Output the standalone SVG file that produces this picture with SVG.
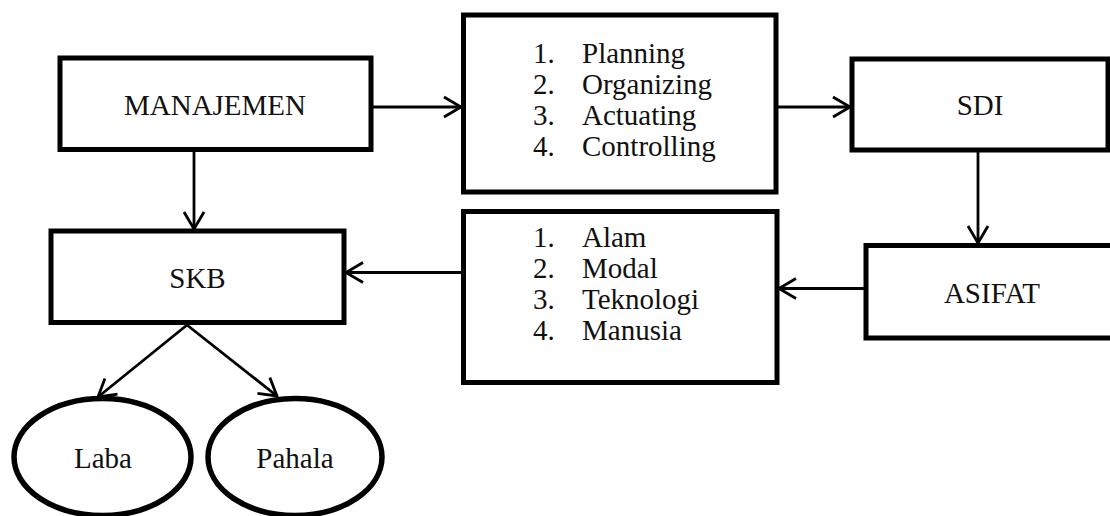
<svg xmlns="http://www.w3.org/2000/svg" width="1110" height="516" viewBox="0 0 1110 516">
  <style>
    .box { fill: #ffffff; stroke: #000000; stroke-width: 5; }
    .oval { fill: #ffffff; stroke: #000000; stroke-width: 5.5; }
    .mid { text-anchor: middle; }
    .link { fill: none; stroke: #000000; stroke-width: 2.8; }
  </style>
  <defs>
    <marker id="head" markerUnits="userSpaceOnUse" markerWidth="24" markerHeight="26" refX="20" refY="12" orient="auto">
      <path d="M3,2 L20,12 L3,22" fill="none" stroke="#000000" stroke-width="2.8"/>
    </marker>
  </defs>

  <rect width="1110" height="516" fill="#ffffff"/>

  <!-- connectors -->
  <g id="connectors">
    <line class="link" x1="373" y1="107" x2="461" y2="107" marker-end="url(#head)"/>
    <line class="link" x1="778" y1="107" x2="850" y2="107" marker-end="url(#head)"/>
    <line class="link" x1="978" y1="152" x2="978" y2="243" marker-end="url(#head)"/>
    <line class="link" x1="864" y1="288.5" x2="779" y2="288.5" marker-end="url(#head)"/>
    <line class="link" x1="462" y1="272.5" x2="346" y2="272.5" marker-end="url(#head)"/>
    <line class="link" x1="194" y1="151" x2="194" y2="229" marker-end="url(#head)"/>
    <line class="link" x1="187" y1="325" x2="98" y2="397" marker-end="url(#head)"/>
    <line class="link" x1="187" y1="325" x2="277" y2="396" marker-end="url(#head)"/>
  </g>

  <g font-family="'Liberation Serif', 'Times New Roman', serif" font-size="29" fill="#111111">
    <!-- management -->
    <g id="manajemen">
      <rect class="box" x="60" y="58" width="311" height="91.5"/>
      <text class="mid" x="215" y="115">MANAJEMEN</text>
    </g>

    <!-- management functions -->
    <g id="fungsi">
      <rect class="box" x="463.5" y="15" width="312.5" height="177"/>
      <text x="533" y="63">1.</text>
      <text x="582" y="63">Planning</text>
      <text x="533" y="94">2.</text>
      <text x="582" y="94">Organizing</text>
      <text x="533" y="125">3.</text>
      <text x="582" y="125">Actuating</text>
      <text x="533" y="156">4.</text>
      <text x="582" y="156">Controlling</text>
    </g>

    <!-- SDI -->
    <g id="sdi">
      <rect class="box" x="852" y="59" width="256" height="91"/>
      <text class="mid" x="980" y="115">SDI</text>
    </g>

    <!-- ASIFAT (runs past the right edge) -->
    <g id="asifat">
      <rect class="box" x="866" y="245.5" width="252" height="92.5"/>
      <text class="mid" x="992" y="302.5">ASIFAT</text>
    </g>

    <!-- resources -->
    <g id="sumber">
      <rect class="box" x="463.5" y="211.5" width="313.5" height="171"/>
      <text x="533" y="247">1.</text>
      <text x="582" y="247">Alam</text>
      <text x="533" y="278">2.</text>
      <text x="582" y="278">Modal</text>
      <text x="533" y="309">3.</text>
      <text x="582" y="309">Teknologi</text>
      <text x="533" y="340">4.</text>
      <text x="582" y="340">Manusia</text>
    </g>

    <!-- SKB -->
    <g id="skb">
      <rect class="box" x="51" y="231" width="293" height="91.5"/>
      <text class="mid" x="197.5" y="288">SKB</text>
    </g>

    <!-- outcomes -->
    <g id="laba">
      <ellipse class="oval" cx="102.5" cy="457" rx="88.5" ry="58.5"/>
      <text class="mid" x="103" y="468">Laba</text>
    </g>
    <g id="pahala">
      <ellipse class="oval" cx="295" cy="457" rx="87" ry="58.5"/>
      <text class="mid" x="295" y="468">Pahala</text>
    </g>
  </g>
</svg>
